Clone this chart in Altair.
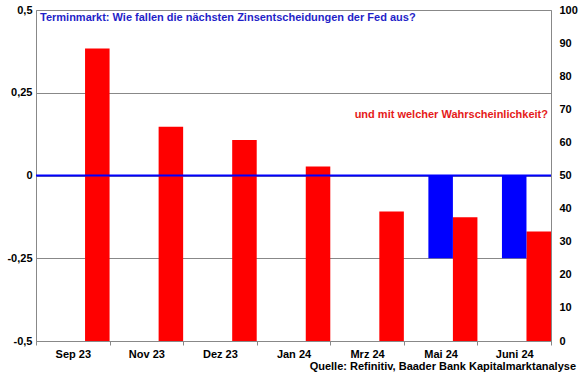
import altair as alt
import pandas as pd

months = ["Sep 23", "Nov 23", "Dez 23", "Jan 24", "Mrz 24", "Mai 24", "Juni 24"]
change = [0, 0, 0, 0, 0, -0.25, -0.25]          # erwartete Zinsänderung (linke Achse)
prob = [88.4, 64.7, 60.7, 52.7, 39.1, 37.4, 33.1]  # Wahrscheinlichkeit in % (rechte Achse)
left_ticks = [-0.5, -0.25, 0, 0.25, 0.5]
right_ticks = [0, 10, 20, 30, 40, 50, 60, 70, 80, 90, 100]

title_text = "Terminmarkt: Wie fallen die nächsten Zinsentscheidungen der Fed aus?"
sub_text = "und mit welcher Wahrscheinlichkeit?"
source_text = "Quelle: Refinitiv, Baader Bank Kapitalmarktanalyse"

df = pd.DataFrame({"month": months, "change": change, "prob": prob,
                   "sb": ["b"] * len(months), "sc": ["c"] * len(months)})

FONT = "Liberation Sans"
off_scale = alt.Scale(domain=["a", "b", "c"], paddingInner=0, paddingOuter=0)
x_enc = alt.X("month:N", sort=months,
              scale=alt.Scale(paddingInner=0, paddingOuter=0),
              axis=alt.Axis(title=None, labelAngle=0, labelFont=FONT, labelFontWeight="bold",
                            labelFontSize=11, labelColor="black", domainColor="#888888",
                            tickColor="#888888", tickSize=4, tickBand="extent",
                            labelPadding=3, grid=False))

base = alt.Chart(df)

red = base.mark_bar(color="#FF0000").encode(
    x=x_enc,
    xOffset=alt.XOffset("sc:N", scale=off_scale),
    y=alt.Y("prob:Q", scale=alt.Scale(domain=[0, 100], nice=False),
            axis=alt.Axis(orient="right", title=None, values=right_ticks, grid=False,
                          ticks=False, domain=False, labelFont=FONT, labelFontWeight="bold",
                          labelFontSize=11, labelColor="black", labelPadding=8)),
)

blue = base.mark_bar(color="#0000FF").encode(
    x=x_enc,
    xOffset=alt.XOffset("sb:N", scale=off_scale),
    y=alt.Y("change:Q", scale=alt.Scale(domain=[-0.5, 0.5], nice=False),
            axis=alt.Axis(orient="left", title=None, values=left_ticks, grid=True,
                          gridColor="#888888", gridOpacity=1, gridWidth=1,
                          ticks=False, domain=False, labelFont=FONT, labelFontWeight="bold",
                          labelFontSize=11, labelColor="black", labelPadding=4,
                          labelExpr="replace(toString(datum.value), '.', ',')")),
)

zero = alt.Chart(pd.DataFrame({"z": [0]})).mark_rule(color="#0000FF", strokeWidth=2).encode(
    y=alt.Y("z:Q")
)

txt_title = alt.Chart(pd.DataFrame({"t": [title_text]})).mark_text(
    align="left", baseline="middle", font=FONT, fontWeight="bold", fontSize=11,
    color="#1F1FC8").encode(x=alt.value(4), y=alt.value(8), text="t:N")

txt_sub = alt.Chart(pd.DataFrame({"t": [sub_text]})).mark_text(
    align="right", baseline="middle", font=FONT, fontWeight="bold", fontSize=11,
    color="#E51A1A").encode(x=alt.value(512), y=alt.value(105), text="t:N")

txt_src = alt.Chart(pd.DataFrame({"t": [source_text]})).mark_text(
    align="right", baseline="middle", font=FONT, fontWeight="bold", fontSize=11,
    color="black").encode(x=alt.value(540), y=alt.value(357), text="t:N")

left_layer = alt.layer(blue, zero, txt_title, txt_sub, txt_src)

chart = alt.layer(red, left_layer).resolve_scale(y="independent").properties(
    width=515, height=331,
    autosize=alt.AutoSizeParams(type="none"),
    padding={"left": 36, "top": 10, "right": 29, "bottom": 34},
    background="white",
).configure_view(stroke="#888888", strokeWidth=1)

chart.save("out.html", embed_options={"renderer": "svg", "actions": False})
